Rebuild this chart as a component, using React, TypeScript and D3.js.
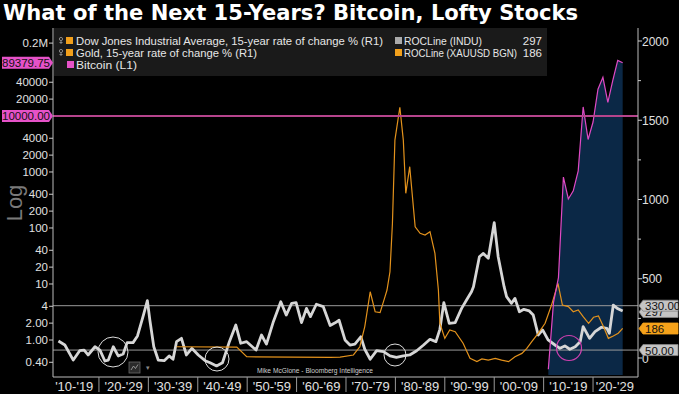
import React from 'react';
import * as d3 from 'd3';

// decade bands on the bottom axis
const decadeStarts = [1910, 1920, 1930, 1940, 1950, 1960, 1970, 1980, 1990, 2000, 2010, 2020];
const decadeLabels = ["'10-'19", "'20-'29", "'30-'39", "'40-'49", "'50-'59", "'60-'69", "'70-'79", "'80-'89", "'90-'99", "'00-'09", "'10-'19", "'20-'29"];

// Dow Jones 15-year rate of change % (R1)
const dowYears = [1911.8, 1913.1, 1914.8, 1916.1, 1917.0, 1917.8, 1919.2, 1920.2, 1921.2, 1921.9, 1922.9, 1923.9, 1924.9, 1925.7, 1926.9, 1927.8, 1929.0, 1929.8, 1930.3, 1931.1, 1932.0, 1933.2, 1934.2, 1935.0, 1935.7, 1936.7, 1937.7, 1938.8, 1940.1, 1941.5, 1942.5, 1943.8, 1945.0, 1946.4, 1947.7, 1948.7, 1949.9, 1951.8, 1952.9, 1953.9, 1955.3, 1956.8, 1957.9, 1959.0, 1959.9, 1961.0, 1962.0, 1962.8, 1964.0, 1965.4, 1966.8, 1967.8, 1968.6, 1969.8, 1970.8, 1971.8, 1973.0, 1973.8, 1974.9, 1976.2, 1977.6, 1978.9, 1980.2, 1981.6, 1982.9, 1984.3, 1985.7, 1987.0, 1988.2, 1989.0, 1989.8, 1990.9, 1992.1, 1993.4, 1994.4, 1995.4, 1995.8, 1997.0, 1997.8, 1998.8, 2000.0, 2000.8, 2002.0, 2002.5, 2003.5, 2004.2, 2005.1, 2006.0, 2007.1, 2007.9, 2008.9, 2009.8, 2010.9, 2012.3, 2013.3, 2014.3, 2015.3, 2016.4, 2017.4, 2018.0, 2019.3, 2020.4, 2021.7, 2022.8, 2023.3, 2024.1, 2024.9, 2026.0];
const dowValues = [107, 82, -13, 46, 50, 19, 71, 50, -19, -13, 71, 13, 25, 97, 97, 139, 271, 362, 240, 71, -13, -17, 13, -8, 103, 124, 19, 61, 19, -17, -30, -50, -30, 103, 208, 93, 103, 50, 145, 88, 229, 355, 271, 345, 349, 223, 313, 261, 339, 324, 205, 222, 238, 114, 82, 88, 134, 55, -8, 46, 40, 13, 4, 13, 19, 46, 82, 118, 103, 181, 349, 219, 223, 313, 366, 418, 450, 639, 660, 629, 854, 639, 450, 387, 345, 376, 292, 307, 297, 271, 145, 177, 114, 82, 61, 76, 55, 71, 103, 198, 124, 166, 194, 187, 156, 334, 313, 297];

// Gold 15-year rate of change % (R1)
const goldYears = [1935.7, 1947.9, 1949.9, 1966.8, 1968.8, 1971.5, 1972.8, 1973.8, 1974.9, 1975.9, 1976.9, 1977.9, 1978.3, 1978.9, 1979.4, 1979.9, 1980.9, 1981.6, 1982.1, 1982.9, 1984.0, 1985.0, 1986.0, 1987.0, 1988.0, 1988.7, 1989.0, 1990.0, 1991.0, 1992.1, 1993.7, 1995.1, 1996.5, 1997.5, 1998.8, 2000.2, 2001.5, 2002.9, 2004.2, 2005.6, 2006.6, 2007.6, 2008.9, 2010.3, 2011.6, 2012.9, 2013.8, 2015.0, 2016.0, 2017.0, 2018.0, 2019.1, 2020.1, 2021.1, 2022.1, 2023.1, 2024.1, 2025.1, 2026.0];
const goldValues = [71, 69, 8, 4, 6, 19, 71, 198, 418, 292, 286, 387, 429, 544, 850, 1375, 1582, 1375, 1039, 1207, 828, 787, 776, 797, 660, 429, 219, 124, 177, 166, 93, -2, -23, -6, -13, -2, -13, -23, 8, 29, 61, 103, 156, 219, 334, 471, 334, 324, 292, 303, 261, 219, 257, 265, 198, 124, 139, 156, 187];

// Bitcoin (L1, log)
const btcYears = [2010.95, 2012, 2013, 2014, 2015, 2016, 2017, 2018, 2019, 2020, 2021, 2022, 2023, 2024, 2025, 2026];
const btcValues = [0.3, 4.7, 13, 810, 330, 460, 1050, 14500, 3800, 7800, 30000, 49000, 17500, 43000, 98000, 89379.75];

const leftTicks = [200000, 40000, 20000, 4000, 2000, 1000, 400, 200, 100, 40, 20, 10, 4, 2, 1, 0.4];
const leftTickLabels = ['0.2M', '40000', '20000', '4000', '2000', '1000', '400', '200', '100', '40', '20', '10', '4', '2.00', '1.00', '0.40'];
const rightTicks = [0, 500, 1000, 1500, 2000];
const rightMinorTicks = [250, 750, 1250, 1750];

const W = 679;
const H = 394;
const plot = { left: 53, right: 638, top: 28, bottom: 377 };

const FONT = "'Liberation Sans', Arial, sans-serif";

const App = () => {
  const x = d3.scaleLinear().domain([1910.7, 2029.1]).range([plot.left, plot.right]);
  const yR = d3.scaleLinear().domain([0, 2000]).range([358, 41]);
  const yL = d3.scaleLog().domain([1, 200000]).range([340, 43.1]);

  const dow = dowYears.map((yr, i) => [yr, dowValues[i]] as [number, number]);
  const gold = goldYears.map((yr, i) => [yr, goldValues[i]] as [number, number]);
  const btc = btcYears.map((yr, i) => [yr, btcValues[i]] as [number, number]);

  const lineR = d3.line<[number, number]>().x(d => x(d[0])).y(d => yR(d[1]));
  const lineL = d3.line<[number, number]>().x(d => x(d[0])).y(d => yL(d[1]));
  const areaL = d3.area<[number, number]>().x(d => x(d[0])).y0(375).y1(d => yL(d[1]));

  // label box with an arrow on one side
  const tagLeft = (label: string, cy: number, fill: string) => {
    const h = 12;
    const p = `M2,${cy - h / 2} H49 L53,${cy} L49,${cy + h / 2} H2 Z`;
    return (
      <g key={label}>
        <path d={p} fill={fill} />
        <text x={26} y={cy + 4} textAnchor="middle" fontSize={11.5} fill="#111" fontFamily={FONT}>{label}</text>
      </g>
    );
  };
  const tagRight = (label: string, cy: number, fill: string, stroke: string) => {
    const h = 11;
    const p = `M643,${cy - h / 2} H678 V${cy + h / 2} H643 L639,${cy} Z`;
    return (
      <g key={label + cy}>
        <path d={p} fill={fill} stroke={stroke} strokeWidth={0.8} />
        <text x={645} y={cy + 4.5} fontSize={11.5} fill="#111" fontFamily={FONT}>{label}</text>
      </g>
    );
  };

  const pin = (cx: number, cy: number) => (
    <g stroke="#888" strokeWidth={1} fill="none">
      <circle cx={cx} cy={cy - 2} r={1.6} />
      <line x1={cx} y1={cy - 0.4} x2={cx} y2={cy + 3} />
      <line x1={cx - 1.5} y1={cy + 1.5} x2={cx + 1.5} y2={cy + 1.5} />
    </g>
  );

  return (
    <svg width={W} height={H} style={{ position: 'absolute', left: 0, top: 0, background: '#000' }}>
      <rect width={W} height={H} fill="#000" />
      <text x={3} y={20} fontFamily="'DejaVu Sans', Verdana, sans-serif" fontWeight="bold" fontSize={20.5} fill="#fff" textLength={575} lengthAdjust="spacingAndGlyphs">
        What of the Next 15-Years? Bitcoin, Lofty Stocks
      </text>

      {/* legend */}
      <rect x={54} y={28} width={493} height={48} fill="#1a1a1a" />
      {pin(61, 41)}
      <rect x={66} y={37} width={7} height={7} fill="#f2a01c" />
      <text x={76} y={45} fontSize={11.5} fill="#e6e6e6" fontFamily={FONT} textLength={307} lengthAdjust="spacingAndGlyphs">Dow Jones Industrial Average, 15-year rate of change % (R1)</text>
      {pin(61, 53)}
      <rect x={66} y={49} width={7} height={7} fill="#f2a01c" />
      <text x={76} y={57} fontSize={11.5} fill="#e6e6e6" fontFamily={FONT} textLength={181} lengthAdjust="spacingAndGlyphs">Gold, 15-year rate of change % (R1)</text>
      <rect x={67} y={61} width={7} height={7} fill="#e652c8" />
      <text x={76} y={69} fontSize={11.5} fill="#e6e6e6" fontFamily={FONT} textLength={61} lengthAdjust="spacingAndGlyphs">Bitcoin (L1)</text>
      <rect x={395} y={37} width={7} height={7} fill="#aaa" />
      <text x={404} y={45} fontSize={11.5} fill="#e6e6e6" fontFamily={FONT} textLength={78} lengthAdjust="spacingAndGlyphs">ROCLine (INDU)</text>
      <text x={542} y={45} fontSize={11.5} fill="#e6e6e6" textAnchor="end" fontFamily={FONT}>297</text>
      <rect x={395} y={49} width={7} height={7} fill="#f2a01c" />
      <text x={404} y={57} fontSize={11.5} fill="#e6e6e6" fontFamily={FONT} textLength={113} lengthAdjust="spacingAndGlyphs">ROCLine (XAUUSD BGN)</text>
      <text x={542} y={57} fontSize={11.5} fill="#e6e6e6" textAnchor="end" fontFamily={FONT}>186</text>

      {/* bitcoin area */}
      <path d={areaL(btc) || ''} fill="#0b2846" />

      {/* reference lines */}
      <line x1={plot.left} x2={plot.right} y1={yR(330)} y2={yR(330)} stroke="#9a9a9a" strokeWidth={1} />
      <line x1={plot.left} x2={plot.right} y1={yR(50)} y2={yR(50)} stroke="#9a9a9a" strokeWidth={1} />

      {/* series */}
      <path d={lineR(dow) || ''} fill="none" stroke="#d6d6d6" strokeWidth={2.8} strokeLinejoin="round" />
      <path d={lineR(gold) || ''} fill="none" stroke="#e3921c" strokeWidth={1.2} />
      <path d={lineL(btc) || ''} fill="none" stroke="#e04ac4" strokeWidth={1.2} />
      <line x1={plot.left} x2={plot.right} y1={yL(10000)} y2={yL(10000)} stroke="#b5448c" strokeWidth={2} />

      {/* annotation circles */}
      <circle cx={113} cy={352} r={15} fill="none" stroke="#ddd" strokeWidth={1} />
      <circle cx={217} cy={359} r={12} fill="none" stroke="#ddd" strokeWidth={1} />
      <circle cx={395} cy={355} r={11} fill="none" stroke="#ddd" strokeWidth={1} />
      <circle cx={569} cy={348} r={12.5} fill="none" stroke="#d040b0" strokeWidth={1.2} />

      {/* little chart icon + credit */}
      <rect x={129} y={362} width={11} height={11} fill="#2a2a2a" stroke="#666" strokeWidth={0.8} />
      <path d="M131,370 L133.5,366 L135.5,368.5 L138,364.5" fill="none" stroke="#aaa" strokeWidth={0.8} />
      <text x={146} y={370} fontSize={7} fill="#888" fontFamily={FONT}>▾</text>
      <text x={257} y={373} fontSize={7} fill="#cfcfcf" fontFamily={FONT} textLength={116} lengthAdjust="spacingAndGlyphs">Mike McGlone - Bloomberg Intelligence</text>

      {/* left axis */}
      <line x1={plot.left} x2={plot.left} y1={plot.top} y2={plot.bottom} stroke="#bbb" strokeWidth={1} />
      {leftTicks.map((v, i) => (
        <g key={'lt' + i}>
          <line x1={plot.left - 4} x2={plot.left} y1={yL(v)} y2={yL(v)} stroke="#ccc" />
          <text x={plot.left - 5} y={yL(v) + 4} textAnchor="end" fontSize={11.5} fill="#e0e0e0" fontFamily={FONT}>{leftTickLabels[i]}</text>
        </g>
      ))}
      {tagLeft('89379.75', yL(89379.75), '#e652c8')}
      {tagLeft('10000.00', yL(10000), '#e652c8')}
      <text transform="translate(22,203) rotate(-90)" textAnchor="middle" fontSize={22} fill="#7a7a7a" fontFamily={FONT}>Log</text>

      {/* right axis */}
      <line x1={plot.right} x2={plot.right} y1={plot.top} y2={plot.bottom} stroke="#bbb" strokeWidth={1} />
      {rightTicks.map(v => (
        <g key={'rt' + v}>
          <line x1={plot.right} x2={plot.right + 4} y1={yR(v)} y2={yR(v)} stroke="#ccc" />
          <text x={plot.right + 4} y={yR(v) + 4.5} fontSize={12} fill="#e0e0e0" fontFamily={FONT}>{v}</text>
        </g>
      ))}
      {rightMinorTicks.map(v => (
        <line key={'rm' + v} x1={plot.right} x2={plot.right + 3} y1={yR(v)} y2={yR(v)} stroke="#ccc" />
      ))}
      {tagRight('297', yR(297) + 1, '#c4c4c4', '#888')}
      {tagRight('330.00', yR(330), '#c4c4c4', '#888')}
      {tagRight('186', yR(186), '#f5a21a', '#f5a21a')}
      {tagRight('50.00', yR(50), '#c4c4c4', '#888')}

      {/* bottom axis */}
      <line x1={plot.left} x2={plot.right} y1={plot.bottom} y2={plot.bottom} stroke="#bbb" strokeWidth={1} />
      {decadeStarts.map((yr, i) => (
        <g key={'d' + yr}>
          {i > 0 && <line x1={x(yr)} x2={x(yr)} y1={plot.bottom} y2={392} stroke="#999" strokeWidth={1} />}
          <text x={x(Math.min(yr + 5, 2024.4))} y={390.5} textAnchor="middle" fontSize={13} fill="#e0e0e0" fontFamily={FONT}>{decadeLabels[i]}</text>
        </g>
      ))}
    </svg>
  );
};

export default App;
